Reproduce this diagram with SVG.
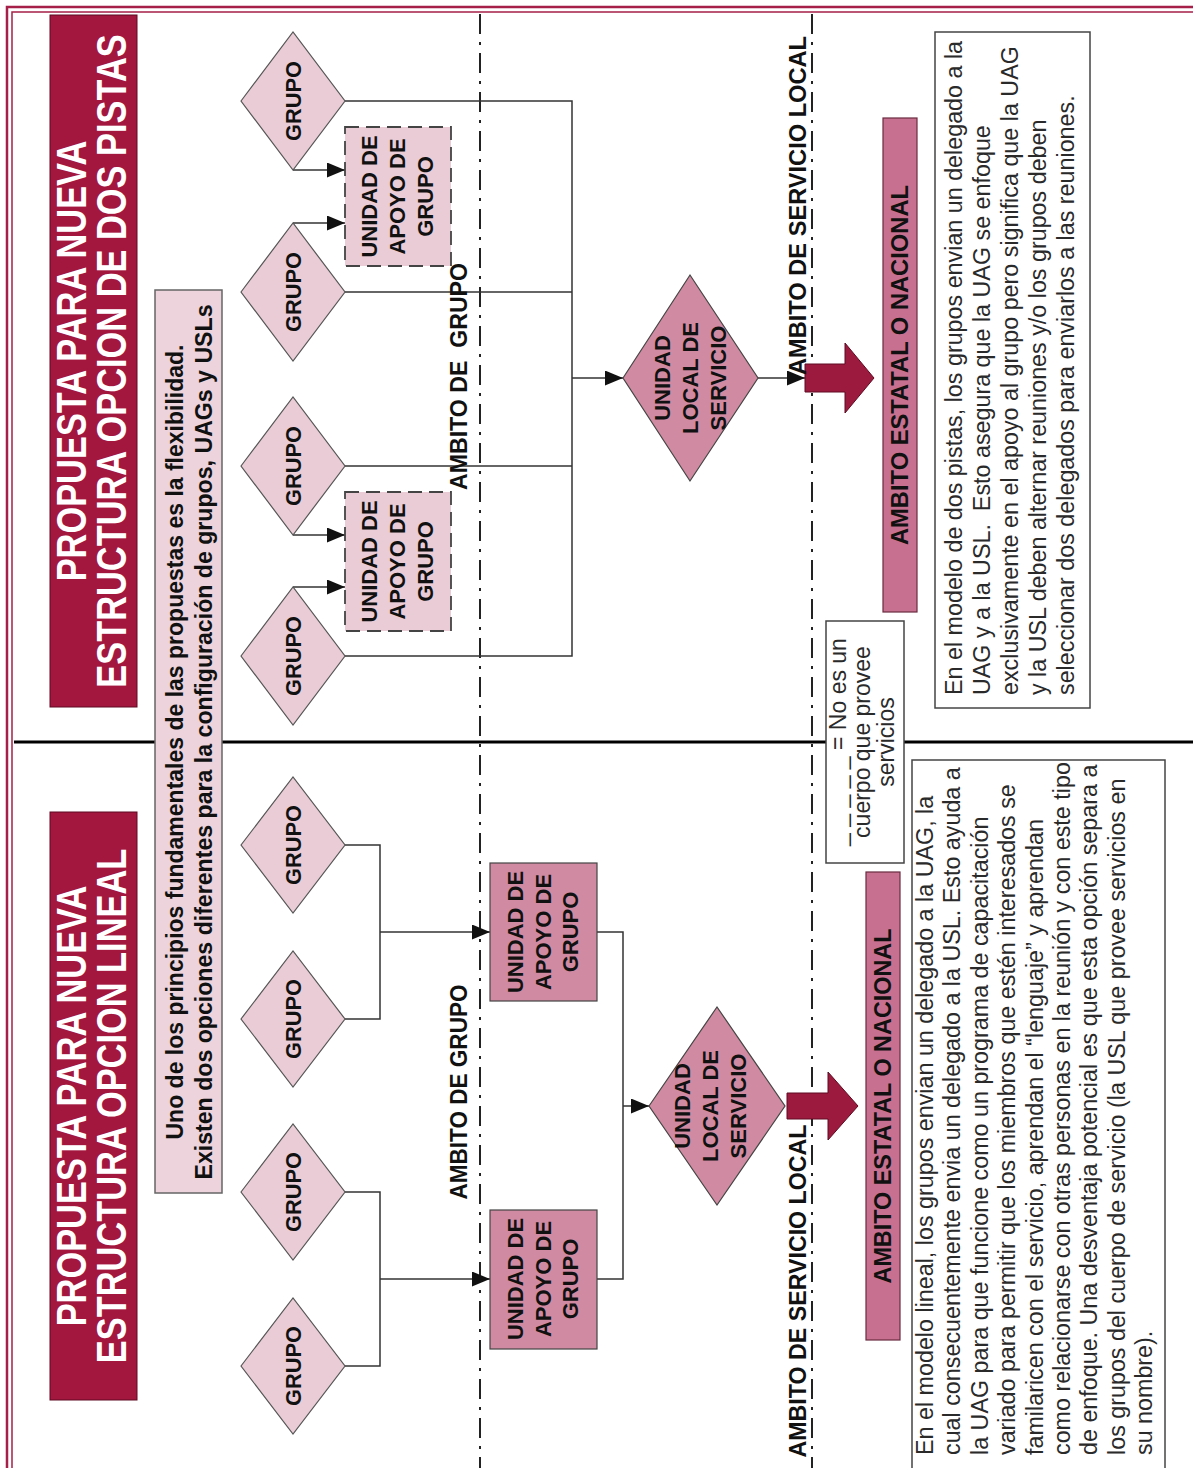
<svg xmlns="http://www.w3.org/2000/svg" width="1193" height="1468" viewBox="0 0 1193 1468">
<style>
.frame{fill:none;stroke:#a51f48}
.title{fill:#a3173f;stroke:#5e0b22;stroke-width:1}
.tt{font-family:"Liberation Sans",Arial,sans-serif;font-weight:bold;font-size:34.4px;fill:#fff;text-anchor:middle}
.grp{fill:#e9ccd6;stroke:#555;stroke-width:1.2}
.uagd{fill:#e9ccd6;stroke:#444;stroke-width:1.8;stroke-dasharray:14 7}
.uag{fill:#d08aa2;stroke:#444;stroke-width:1.2}
.uls{fill:#d08aa2;stroke:#444;stroke-width:1.2}
.est{fill:#c8708f;stroke:#6a2a40;stroke-width:1.2}
.info{fill:#ecd3dc;stroke:#666;stroke-width:1.5}
.box{fill:#fff;stroke:#444;stroke-width:1.5}
.lbl{font-family:"Liberation Sans",Arial,sans-serif;font-weight:bold;font-size:22px;fill:#111;text-anchor:middle}
.lbl23{font-family:"Liberation Sans",Arial,sans-serif;font-weight:bold;font-size:23px;fill:#111;text-anchor:middle}
.para{font-family:"Liberation Sans",Arial,sans-serif;font-size:23.3px;fill:#2a2a2a}
.leg{font-family:"Liberation Sans",Arial,sans-serif;font-size:23px;fill:#2a2a2a;text-anchor:middle}
.conn{fill:none;stroke:#333;stroke-width:1.5}
.scope{stroke:#222;stroke-width:2;stroke-dasharray:20 8 3 8}
.red{fill:#9d1a3f;stroke:#5e0b22;stroke-width:1}
</style>
<defs>
<marker id="ah" markerWidth="18" markerHeight="15" refX="18" refY="7.5" orient="auto" markerUnits="userSpaceOnUse">
<path d="M0,0 L18,7.5 L0,15 z" fill="#111"/>
</marker>
</defs>
<rect width="1193" height="1468" fill="#fff"/>
<g id="frame">
<rect class="frame" x="7" y="7" width="1200" height="1480" stroke-width="2.5"/>
<rect class="frame" x="12" y="12" width="1200" height="1480" stroke-width="1.5"/>
</g>
<g id="divider">
<line x1="14" y1="742" x2="1193" y2="742" stroke="#000" stroke-width="3"/>
</g>
<g id="scopes">
<line class="scope" x1="480" y1="14" x2="480" y2="1468"/>
<line class="scope" x1="812" y1="14" x2="812" y2="1468"/>
</g>
<g id="connectors">
<line class="conn" x1="293" y1="170" x2="345" y2="170" marker-end="url(#ah)"/>
<line class="conn" x1="293" y1="223" x2="345" y2="223" marker-end="url(#ah)"/>
<line class="conn" x1="293" y1="535" x2="345" y2="535" marker-end="url(#ah)"/>
<line class="conn" x1="293" y1="587" x2="345" y2="587" marker-end="url(#ah)"/>
<polyline class="conn" points="345,101 572,101 572,656 345,656"/>
<line class="conn" x1="345" y1="292" x2="572" y2="292"/>
<line class="conn" x1="345" y1="466" x2="572" y2="466"/>
<line class="conn" x1="572" y1="378" x2="623" y2="378" marker-end="url(#ah)"/>
<line class="conn" x1="758" y1="378" x2="805" y2="378" marker-end="url(#ah)"/>
<polyline class="conn" points="345,845 380,845 380,1019 345,1019"/>
<line class="conn" x1="380" y1="932" x2="490" y2="932" marker-end="url(#ah)"/>
<polyline class="conn" points="345,1192 380,1192 380,1366 345,1366"/>
<line class="conn" x1="380" y1="1279" x2="490" y2="1279" marker-end="url(#ah)"/>
<polyline class="conn" points="597,932 623,932 623,1279 597,1279"/>
<line class="conn" x1="623" y1="1106" x2="649" y2="1106" marker-end="url(#ah)"/>
</g>
<g id="title-dos-pistas">
<rect class="title" x="50" y="15" width="87" height="692"/>
<text class="tt" transform="rotate(-90) scale(1,1.26)" x="-361" y="68.3">PROPUESTA PARA NUEVA</text>
<text class="tt" transform="rotate(-90) scale(1,1.26)" x="-361" y="100">ESTRUCTURA OPCION DE DOS PISTAS</text>
</g>
<g id="title-lineal">
<rect class="title" x="50" y="812" width="87" height="588"/>
<text class="tt" transform="rotate(-90) scale(1,1.26)" x="-1106" y="68.3">PROPUESTA PARA NUEVA</text>
<text class="tt" transform="rotate(-90) scale(1,1.26)" x="-1106" y="100">ESTRUCTURA OPCION LINEAL</text>
</g>
<g id="intro">
<rect class="info" x="155" y="290" width="67" height="903"/>
<text class="lbl23" transform="rotate(-90)" x="-742" y="183" textLength="795" lengthAdjust="spacingAndGlyphs">Uno de los principios fundamentales de las propuestas es la flexibilidad.</text>
<text class="lbl23" transform="rotate(-90)" x="-742" y="212" textLength="875" lengthAdjust="spacingAndGlyphs">Existen dos opciones diferentes para la configuración de grupos, UAGs y USLs</text>
</g>
<g id="grupo-t1"><polygon class="grp" points="241,101 293,32 345,101 293,170"/><text class="lbl" transform="rotate(-90)" x="-101" y="301" textLength="80" lengthAdjust="spacingAndGlyphs">GRUPO</text></g>
<g id="grupo-t2"><polygon class="grp" points="241,292 293,223 345,292 293,361"/><text class="lbl" transform="rotate(-90)" x="-292" y="301" textLength="80" lengthAdjust="spacingAndGlyphs">GRUPO</text></g>
<g id="grupo-t3"><polygon class="grp" points="241,466 293,397 345,466 293,535"/><text class="lbl" transform="rotate(-90)" x="-466" y="301" textLength="80" lengthAdjust="spacingAndGlyphs">GRUPO</text></g>
<g id="grupo-t4"><polygon class="grp" points="241,656 293,587 345,656 293,725"/><text class="lbl" transform="rotate(-90)" x="-656" y="301" textLength="80" lengthAdjust="spacingAndGlyphs">GRUPO</text></g>
<g id="uag-t1"><rect class="uagd" x="345" y="127" width="106" height="139"/>
<text class="lbl" transform="rotate(-90)" x="-196.5" y="377">UNIDAD DE</text>
<text class="lbl" transform="rotate(-90)" x="-196.5" y="405">APOYO DE</text>
<text class="lbl" transform="rotate(-90)" x="-196.5" y="433">GRUPO</text></g>
<g id="uag-t2"><rect class="uagd" x="345" y="492" width="106" height="139"/>
<text class="lbl" transform="rotate(-90)" x="-561.5" y="377">UNIDAD DE</text>
<text class="lbl" transform="rotate(-90)" x="-561.5" y="405">APOYO DE</text>
<text class="lbl" transform="rotate(-90)" x="-561.5" y="433">GRUPO</text></g>
<g id="uls-t"><polygon class="uls" points="623,378 690,275 758,378 690,481"/>
<text class="lbl" transform="rotate(-90)" x="-378" y="670">UNIDAD</text>
<text class="lbl" transform="rotate(-90)" x="-378" y="698">LOCAL DE</text>
<text class="lbl" transform="rotate(-90)" x="-378" y="726">SERVICIO</text></g>
<g id="arrow-t"><polygon class="red" points="805,364 845,364 845,343 874,378 845,413 845,392 805,392"/></g>
<g id="estatal-t"><rect class="est" x="883" y="118" width="34" height="494"/>
<text class="lbl23" transform="rotate(-90)" x="-365" y="908" textLength="360" lengthAdjust="spacingAndGlyphs">AMBITO ESTATAL O NACIONAL</text></g>
<g id="grupo-b1"><polygon class="grp" points="241,845 293,777 345,845 293,913"/><text class="lbl" transform="rotate(-90)" x="-845" y="301" textLength="80" lengthAdjust="spacingAndGlyphs">GRUPO</text></g>
<g id="grupo-b2"><polygon class="grp" points="241,1019 293,951 345,1019 293,1087"/><text class="lbl" transform="rotate(-90)" x="-1019" y="301" textLength="80" lengthAdjust="spacingAndGlyphs">GRUPO</text></g>
<g id="grupo-b3"><polygon class="grp" points="241,1192 293,1124 345,1192 293,1260"/><text class="lbl" transform="rotate(-90)" x="-1192" y="301" textLength="80" lengthAdjust="spacingAndGlyphs">GRUPO</text></g>
<g id="grupo-b4"><polygon class="grp" points="241,1366 293,1298 345,1366 293,1434"/><text class="lbl" transform="rotate(-90)" x="-1366" y="301" textLength="80" lengthAdjust="spacingAndGlyphs">GRUPO</text></g>
<g id="uag-b1"><rect class="uag" x="490" y="863" width="107" height="138"/>
<text class="lbl" transform="rotate(-90)" x="-932" y="523">UNIDAD DE</text>
<text class="lbl" transform="rotate(-90)" x="-932" y="551">APOYO DE</text>
<text class="lbl" transform="rotate(-90)" x="-932" y="578">GRUPO</text></g>
<g id="uag-b2"><rect class="uag" x="490" y="1210" width="107" height="139"/>
<text class="lbl" transform="rotate(-90)" x="-1279" y="523">UNIDAD DE</text>
<text class="lbl" transform="rotate(-90)" x="-1279" y="551">APOYO DE</text>
<text class="lbl" transform="rotate(-90)" x="-1279" y="578">GRUPO</text></g>
<g id="uls-b"><polygon class="uls" points="649,1106 717,1007 785,1106 717,1205"/>
<text class="lbl" transform="rotate(-90)" x="-1106" y="690">UNIDAD</text>
<text class="lbl" transform="rotate(-90)" x="-1106" y="718">LOCAL DE</text>
<text class="lbl" transform="rotate(-90)" x="-1106" y="746">SERVICIO</text></g>
<g id="arrow-b"><polygon class="red" points="787,1093 828,1093 828,1072 858,1106 828,1140 828,1119 787,1119"/></g>
<g id="estatal-b"><rect class="est" x="866" y="872" width="34" height="468"/>
<text class="lbl23" transform="rotate(-90)" x="-1106" y="891" textLength="355" lengthAdjust="spacingAndGlyphs">AMBITO ESTATAL O NACIONAL</text></g>
<g id="scope-labels">
<text class="lbl23" transform="rotate(-90)" x="-376.5" y="467" textLength="227" lengthAdjust="spacingAndGlyphs">AMBITO DE&#160; GRUPO</text>
<text class="lbl23" transform="rotate(-90)" x="-1092" y="467" textLength="215" lengthAdjust="spacingAndGlyphs">AMBITO DE GRUPO</text>
<text class="lbl23" transform="rotate(-90)" x="-205.5" y="806" textLength="339" lengthAdjust="spacingAndGlyphs">AMBITO DE SERVICIO LOCAL</text>
<text class="lbl23" transform="rotate(-90)" x="-1291" y="806" textLength="333" lengthAdjust="spacingAndGlyphs">AMBITO DE SERVICIO LOCAL</text>
</g>
<g id="legend">
<rect class="box" x="826" y="621" width="78" height="242"/>
<text class="leg" transform="rotate(-90)" x="-742" y="846">_ _ _ _ _ = No es un</text>
<text class="leg" transform="rotate(-90)" x="-742" y="870">cuerpo que provee</text>
<text class="leg" transform="rotate(-90)" x="-742" y="894">servicios</text>
</g>
<g id="nota-dos-pistas">
<rect class="box" x="935" y="32" width="155" height="676"/>
<text class="para" transform="rotate(-90)" x="-695" y="962">En el modelo de dos pistas, los grupos envian un delegado a la</text>
<text class="para" transform="rotate(-90)" x="-695" y="990">UAG y a la USL.&#160; Esto asegura que la UAG se enfoque</text>
<text class="para" transform="rotate(-90)" x="-695" y="1018">exclusivamente en el apoyo al grupo pero significa que la UAG</text>
<text class="para" transform="rotate(-90)" x="-695" y="1046">y la USL deben alternar reuniones y/o los grupos deben</text>
<text class="para" transform="rotate(-90)" x="-695" y="1074">seleccionar dos delegados para enviarlos a las reuniones.</text>
</g>
<g id="nota-lineal">
<rect class="box" x="912" y="760" width="253" height="730"/>
<text class="para" transform="rotate(-90)" x="-1455" y="933">En el modelo lineal, los grupos envian un delegado a la UAG, la</text>
<text class="para" transform="rotate(-90)" x="-1455" y="960.4">cual consecuentemente envia un delegado a la USL. Esto ayuda a</text>
<text class="para" transform="rotate(-90)" x="-1455" y="987.8">la UAG para que funcione como un programa de capacitación</text>
<text class="para" transform="rotate(-90)" x="-1455" y="1015.2">variado para permitir que los miembros que estén interesados se</text>
<text class="para" transform="rotate(-90)" x="-1455" y="1042.6">familaricen con el servicio, aprendan el “lenguaje” y aprendan</text>
<text class="para" transform="rotate(-90)" x="-1455" y="1070">como relacionarse con otras personas en la reunión y con este tipo</text>
<text class="para" transform="rotate(-90)" x="-1455" y="1097.4">de enfoque. Una desventaja potencial es que esta opción separa a</text>
<text class="para" transform="rotate(-90)" x="-1455" y="1124.8">los grupos del cuerpo de servicio (la USL que provee servicios en</text>
<text class="para" transform="rotate(-90)" x="-1455" y="1152.2">su nombre).</text>
</g>
</svg>
